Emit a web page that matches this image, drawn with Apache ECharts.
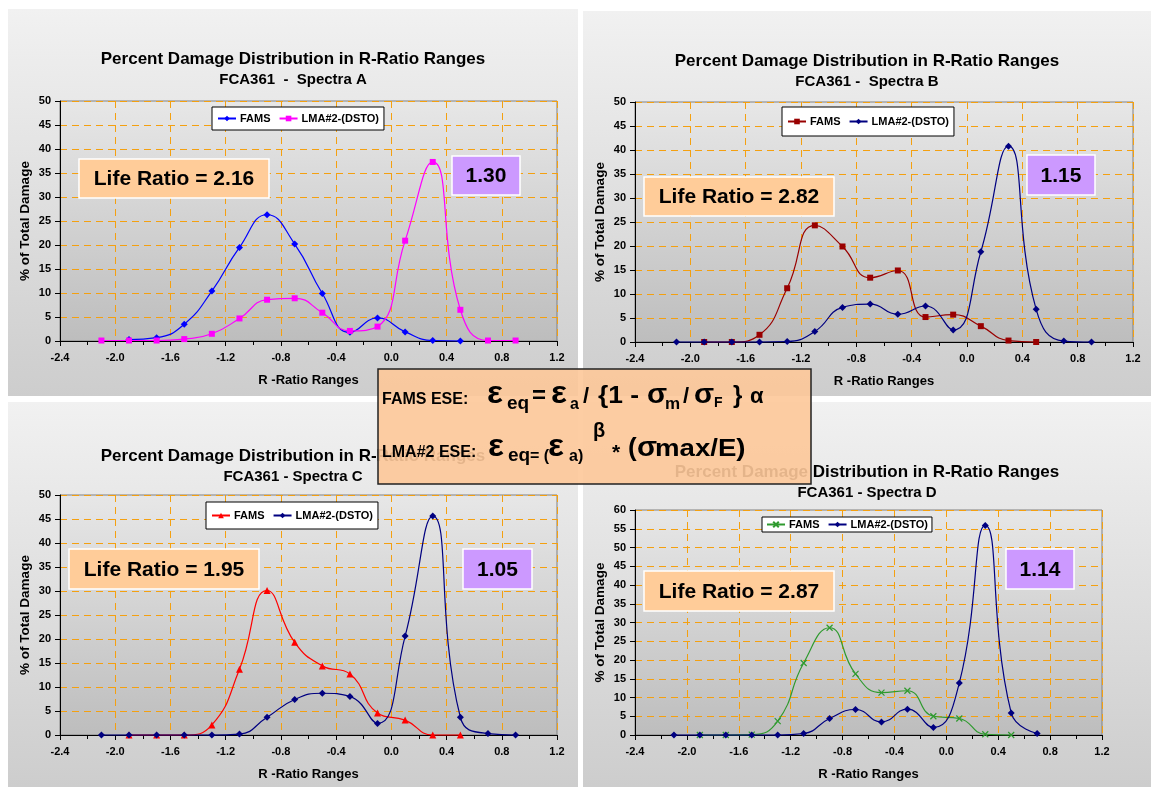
<!DOCTYPE html>
<html>
<head>
<meta charset="utf-8">
<script src="https://cdn.jsdelivr.net/npm/echarts@6/dist/echarts.min.js"></script>
<style>
  html, body { margin: 0; padding: 0; background: #ffffff; }
  #chart { width: 1151px; height: 787px; }
</style>
</head>
<body>
<div id="chart"></div>
<script>
// ---- data -------------------------------------------------------------
// R-ratio range mid-points shared by every spectrum
const rRanges = [-2.1, -1.9, -1.7, -1.5, -1.3, -1.1, -0.9, -0.7, -0.5, -0.3, -0.1, 0.1, 0.3, 0.5, 0.7, 0.9];

// % of total damage per R-ratio range (null = no point in that range)
const famsA = [null, 0.3, 0.7, 3.5, 10.4, 19.5, 26.3, 20.2, 9.9, 1.8, 4.8, 1.9, 0.1, 0.0, null, null];
const lmaA  = [0.1, 0.1, 0.1, 0.4, 1.5, 4.7, 8.6, 8.9, 5.9, 2.1, 3.0, 20.9, 37.3, 6.5, 0.1, 0.1];

const famsB = [null, 0.0, 0.0, 1.5, 11.2, 24.3, 19.9, 13.4, 14.9, 5.2, 5.7, 3.3, 0.3, 0.0, null, null];
const lmaB  = [0.0, 0.0, 0.0, 0.0, 0.1, 2.2, 7.2, 7.9, 5.8, 7.5, 2.5, 18.8, 40.8, 6.8, 0.2, 0.0];

const famsC = [null, 0.0, 0.0, 0.0, 2.1, 13.7, 30.1, 19.3, 14.4, 12.7, 4.6, 3.1, 0.0, 0.0, null, null];
const lmaC  = [0.0, 0.0, 0.0, 0.0, 0.0, 0.2, 3.7, 7.4, 8.7, 8.0, 2.4, 20.6, 45.6, 3.7, 0.3, 0.0];

const famsD = [null, 0.0, 0.0, 0.1, 3.7, 19.2, 28.6, 16.3, 11.3, 11.8, 5.0, 4.4, 0.2, 0.0, null, null];
const lmaD  = [0.0, 0.0, 0.0, 0.0, 0.0, 0.4, 4.4, 6.8, 3.5, 6.9, 2.0, 13.9, 55.9, 5.9, 0.4, null];

// axis ranges
const rAxisMin = -2.4, rAxisMax = 1.2, rAxisStep = 0.4;
const damageAxisMax = [50, 50, 50, 60];
const damageAxisStep = 5;

// texts
const chartTitle = 'Percent Damage Distribution in R-Ratio Ranges';
const spectraTitles = ['FCA361  -  Spectra A', 'FCA361 -  Spectra B', 'FCA361 - Spectra C', 'FCA361 - Spectra D'];
const legendNames = [['FAMS', 'LMA#2-(DSTO)'], ['FAMS', 'LMA#2-(DSTO)'], ['FAMS', 'LMA#2-(DSTO)'], ['FAMS', 'LMA#2-(DSTO)']];
const lifeRatios = ['2.16', '2.82', '1.95', '2.87'];
const lmaRatios  = ['1.30', '1.15', '1.05', '1.14'];
const xAxisTitle = 'R -Ratio Ranges';
const yAxisTitle = '% of Total Damage';

// ---- layout & styles --------------------------------------------------
const FONT = '"Liberation Sans", Arial, Helvetica, sans-serif';
const panelBoxes = [
  { x: 8,   y: 9,   w: 570, h: 387 },
  { x: 583, y: 11,  w: 568, h: 385 },
  { x: 8,   y: 402, w: 570, h: 385 },
  { x: 583, y: 402, w: 568, h: 385 }
];
const gridBoxes = [
  { left: 60,  top: 101, width: 497, height: 240 },
  { left: 635, top: 102, width: 498, height: 240 },
  { left: 60,  top: 495, width: 497, height: 240 },
  { left: 635, top: 510, width: 467, height: 225 }
];
const titlePos = [ { x: 293, y: 49 }, { x: 867, y: 51 }, { x: 293, y: 446 }, { x: 867, y: 462 } ];
const legendPos = [
  { left: 212, top: 107, pad: [6, 5] },
  { left: 782, top: 107, pad: [9, 5] },
  { left: 206, top: 502, pad: [8, 5] },
  { left: 762, top: 517, pad: [2, 4] }
];
const lifeBoxes = [
  { x: 79,  y: 159, w: 190, h: 39 },
  { x: 644, y: 177, w: 190, h: 39 },
  { x: 69,  y: 549, w: 190, h: 40 },
  { x: 644, y: 571, w: 190, h: 40 }
];
const lmaBoxes = [
  { x: 452,  y: 156, w: 68, h: 39 },
  { x: 1027, y: 155, w: 68, h: 40 },
  { x: 463,  y: 549, w: 69, h: 40 },
  { x: 1006, y: 549, w: 68, h: 40 }
];
const seriesStyles = [
  [ { color: '#0000ff', symbol: 'diamond', size: 7 }, { color: '#ff00ff', symbol: 'rect', size: 6 } ],
  [ { color: '#990000', symbol: 'rect', size: 6 },    { color: '#000080', symbol: 'diamond', size: 7 } ],
  [ { color: '#ff0000', symbol: 'triangle', size: 7 },{ color: '#000080', symbol: 'diamond', size: 7 } ],
  [ { color: '#2f9a2f', symbol: 'path://M0,0L10,10M10,0L0,10', size: 6, stroke: true }, { color: '#000080', symbol: 'diamond', size: 7 } ]
];
const panelValues = [[famsA, lmaA], [famsB, lmaB], [famsC, lmaC], [famsD, lmaD]];

function toPairs(values) {
  const out = [];
  values.forEach((v, i) => { if (v !== null) out.push([rRanges[i], v]); });
  return out;
}

const gradientPanel = { type: 'linear', x: 0, y: 0, x2: 0, y2: 1,
  colorStops: [ { offset: 0, color: '#f1f1f1' }, { offset: 1, color: '#cdcdcd' } ] };
const gradientPlot = { type: 'linear', x: 0, y: 0, x2: 0, y2: 1,
  colorStops: [ { offset: 0, color: '#e7e7e7' }, { offset: 1, color: '#bdbdbd' } ] };
const gridLineStyle = { color: '#f4a010', type: [7, 5], width: 1 };

const grids = [], xAxes = [], yAxes = [], series = [], titles = [], legends = [], graphics = [];

for (let p = 0; p < 4; p++) {
  const g = gridBoxes[p];
  grids.push({ left: g.left, top: g.top, width: g.width, height: g.height, containLabel: false,
    show: true, backgroundColor: gradientPlot, borderColor: '#808080', borderWidth: 1 });

  xAxes.push({
    gridIndex: p, type: 'value', min: rAxisMin, max: rAxisMax, interval: rAxisStep,
    axisLine: { show: true, onZero: false, lineStyle: { color: '#000', width: 1 } },
    axisTick: { show: true, length: 5, lineStyle: { color: '#000' } },
    minorTick: { show: true, splitNumber: 2, length: 4, lineStyle: { color: '#000' } },
    axisLabel: { margin: 11, color: '#000', fontFamily: FONT, fontWeight: 'bold', fontSize: 11,
      formatter: v => (Math.abs(v) < 1e-9 ? 0 : v).toFixed(1) },
    splitLine: { show: true, lineStyle: gridLineStyle },
    name: xAxisTitle, nameLocation: 'middle', nameGap: 33,
    nameTextStyle: { color: '#000', fontFamily: FONT, fontWeight: 'bold', fontSize: 13 }
  });

  yAxes.push({
    gridIndex: p, type: 'value', min: 0, max: damageAxisMax[p], interval: damageAxisStep,
    axisLine: { show: true, onZero: false, lineStyle: { color: '#000', width: 1 } },
    axisTick: { show: true, length: 5, lineStyle: { color: '#000' } },
    axisLabel: { margin: 9, color: '#000', fontFamily: FONT, fontWeight: 'bold', fontSize: 11 },
    splitLine: { show: true, lineStyle: gridLineStyle },
    name: yAxisTitle, nameLocation: 'middle', nameGap: 28, nameRotate: 90,
    nameTextStyle: { color: '#000', fontFamily: FONT, fontWeight: 'bold', fontSize: 13.5 }
  });

  const names = [];
  for (let s = 0; s < 2; s++) {
    const st = seriesStyles[p][s];
    const name = legendNames[p][s] + '|' + p;
    names.push(name);
    series.push({
      name, type: 'line', xAxisIndex: p, yAxisIndex: p,
      data: toPairs(panelValues[p][s]),
      smooth: 0.5, clip: false,
      symbol: st.symbol, symbolSize: st.size, showSymbol: true,
      lineStyle: { color: st.color, width: 1.2 },
      itemStyle: st.stroke ? { color: 'none', borderColor: st.color, borderWidth: 1.2 }
                           : { color: st.color, borderColor: st.color, borderWidth: 0 },
      emphasis: { disabled: true },
      z: 3 + s
    });
  }

  titles.push({
    text: chartTitle,
    subtext: spectraTitles[p],
    left: titlePos[p].x, top: titlePos[p].y, textAlign: 'center', padding: 0, itemGap: 2,
    textStyle: { color: '#000', fontFamily: FONT, fontWeight: 'bold', fontSize: 17, lineHeight: 20 },
    subtextStyle: { color: '#000', fontFamily: FONT, fontWeight: 'bold', fontSize: 15, lineHeight: 18 }
  });

  const lp = legendPos[p];
  legends.push({
    data: names, left: lp.left, top: lp.top, orient: 'horizontal',
    backgroundColor: '#ffffff', borderColor: '#000', borderWidth: 1, borderRadius: 0,
    padding: lp.pad, itemGap: 8, itemWidth: 18, itemHeight: 7,
    selectedMode: false,
    formatter: n => n.split('|')[0],
    textStyle: { color: '#000', fontFamily: FONT, fontWeight: 'bold', fontSize: 11, padding: [0, 0, 0, -1] }
  });

  // panel backdrop
  const pb = panelBoxes[p];
  graphics.push({ type: 'rect', z: -10, silent: true,
    shape: { x: pb.x, y: pb.y, width: pb.w, height: pb.h }, style: { fill: gradientPanel } });

  // life ratio annotations
  const lb = lifeBoxes[p];
  graphics.push({ type: 'rect', z: 20, silent: true,
    shape: { x: lb.x, y: lb.y, width: lb.w, height: lb.h },
    style: { fill: '#ffcc99', stroke: '#ffffff', lineWidth: 1.5 } });
  graphics.push({ type: 'text', z: 21, silent: true, x: lb.x + lb.w / 2, y: lb.y + lb.h / 2 + 1,
    style: { text: 'Life Ratio = ' + lifeRatios[p], fill: '#000', align: 'center', verticalAlign: 'middle',
      fontFamily: FONT, fontWeight: 'bold', fontSize: 21 } });
  const mb = lmaBoxes[p];
  graphics.push({ type: 'rect', z: 20, silent: true,
    shape: { x: mb.x, y: mb.y, width: mb.w, height: mb.h },
    style: { fill: '#cc99ff', stroke: '#ffffff', lineWidth: 1.5 } });
  graphics.push({ type: 'text', z: 21, silent: true, x: mb.x + mb.w / 2, y: mb.y + mb.h / 2 + 1,
    style: { text: lmaRatios[p], fill: '#000', align: 'center', verticalAlign: 'middle',
      fontFamily: FONT, fontWeight: 'bold', fontSize: 21 } });
}

// ---- equivalent-strain equation box ----------------------------------
const eqBox = { x: 378, y: 369, w: 433, h: 115 };
graphics.push({ type: 'rect', z: 50, silent: true,
  shape: { x: eqBox.x, y: eqBox.y, width: eqBox.w, height: eqBox.h },
  style: { fill: 'rgba(253,200,153,0.9)', stroke: '#222', lineWidth: 1.5 } });

// [text, font size, x, baseline, horizontal stretch]
const eqPieces = [
  ['FAMS ESE:', 16, 382, 405, 1],
  ['\u03b5', 32, 487, 405, 1.05], ['eq', 19, 507, 410, 1], ['=', 24, 532, 405, 1],
  ['\u03b5', 32, 551, 405, 1.05], ['a', 16, 570, 410, 1], ['/', 22, 583, 405, 1], ['{1 -', 24, 598, 405, 1.1],
  ['\u03c3', 28, 647, 405, 1.05], ['m', 17, 665, 410, 1], ['/', 22, 683, 405, 1], ['\u03c3', 28, 694, 405, 1.05],
  ['F', 14, 714, 408, 1], ['}', 24, 733, 405, 1],
  ['LMA#2 ESE:', 16, 382, 458, 1],
  ['\u03b5', 32, 488, 458, 1.05], ['eq', 19, 508, 462, 1], ['= (', 16, 530, 462, 1],
  ['\u03b5', 32, 548, 458, 1.05], ['a)', 16, 569, 462, 1],
  ['\u03b2', 20, 593, 438, 1], ['*', 21, 612, 461, 1],
  ['(', 26, 628, 458, 1], ['\u03c3', 28, 637, 458, 1.05], ['max/E)', 24, 655, 458, 1.15],
  ['\u03b1', 22, 750, 405, 1]
];
eqPieces.forEach(([t, fs, x, base, sx]) => {
  graphics.push({ type: 'text', z: 51, silent: true, x, y: base - 0.35 * fs, scaleX: sx,
    style: { text: t, fill: '#000', align: 'left', verticalAlign: 'middle',
      fontFamily: FONT, fontWeight: 'bold', fontSize: fs } });
});

const chart = echarts.init(document.getElementById('chart'), null, { renderer: 'canvas' });
chart.setOption({
  animation: false,
  backgroundColor: '#ffffff',
  title: titles,
  legend: legends,
  grid: grids,
  xAxis: xAxes,
  yAxis: yAxes,
  series,
  graphic: { elements: graphics }
});
</script>
</body>
</html>
